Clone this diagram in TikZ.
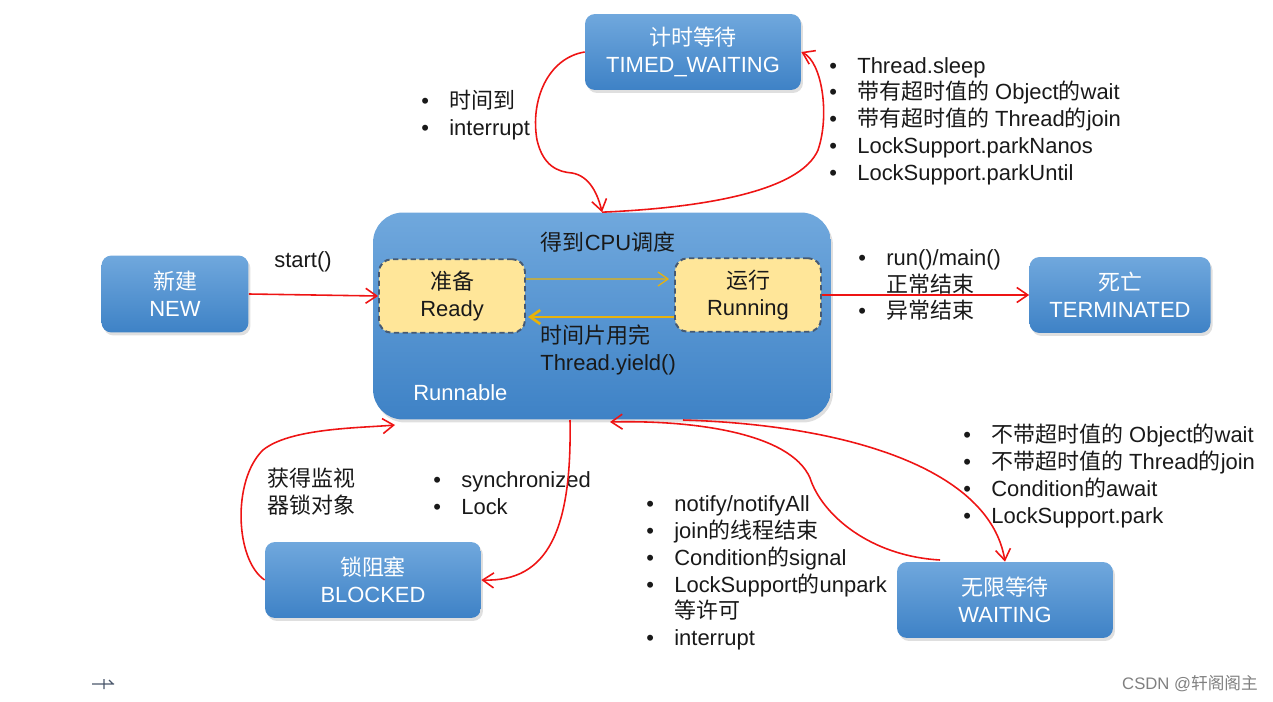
\documentclass[tikz,border=0pt]{standalone}
\usepackage{fontspec}
\setmainfont{Liberation Sans}
\newfontfamily\zhfont{Noto Sans CJK SC}
\newcommand{\zh}[1]{{\zhfont #1}} % Chinese words
\newcommand{\itm}{\makebox[0.56cm][l]{\textbullet}} % bullet of a list line
\usetikzlibrary{arrows.meta,positioning,calc,shadows}
\definecolor{boxtop}{RGB}{112,168,221}
\definecolor{boxbot}{RGB}{62,130,198}
\definecolor{readyfill}{RGB}{255,230,153}
\definecolor{dashcol}{RGB}{70,90,115}
\definecolor{goldarr}{RGB}{232,178,10}
\definecolor{redarr}{RGB}{238,20,20}
\definecolor{txt}{RGB}{25,25,25}
\definecolor{markcol}{RGB}{75,88,108}
\tikzset{x=0.02cm, y=-0.02cm, % one unit is one pixel, y runs down
        every node/.style={ % Text of all nodes
            font=\fontsize{12.5}{15.2}\selectfont,
            text=txt},
        statebox/.style={ % Blue thread states
            rectangle, rounded corners=0.2cm,
            top color=boxtop, bottom color=boxbot,
            text=white, align=center,
            minimum width=4.32cm, minimum height=1.52cm,
            drop shadow={opacity=0.25, shadow xshift=0.04cm, shadow yshift=-0.06cm}},
        innerbox/.style={ % Ready / Running inside Runnable
            rectangle, rounded corners=0.25cm,
            fill=readyfill, draw=dashcol, dash pattern=on 3pt off 2pt,
            line width=1.1pt, align=center,
            minimum width=2.92cm, minimum height=1.47cm},
        lst/.style={align=left, inner sep=0pt, anchor=west}, % Bullet lists
        trans/.style={ % Red transitions
            draw=redarr, line width=0.9pt,
            -{Straight Barb[length=2.2mm,width=3mm]}},
        sched/.style={ % Yellow scheduling arrows
            draw=goldarr,
            -{Straight Barb[length=2mm,width=2.8mm]}}
        }

\begin{document}
\begin{tikzpicture}
    \useasboundingbox (0,0) rectangle (1273,702);

    % states
    \node[statebox] (tw) at (693,52) {\zh{计时等待}\\TIMED\_WAITING};
    \node[statebox, minimum width=2.94cm, minimum height=1.54cm] (nw) at (175,294) {\zh{新建}\\NEW};
    \node[statebox, rounded corners=0.6cm, minimum width=9.16cm, minimum height=4.14cm] (rn) at (602,316) {};
    \node[innerbox] (rd) at (452,296) {\zh{准备}\\Ready};
    \node[innerbox] (rng) at (748,295) {\zh{运行}\\Running};
    \node[statebox, minimum width=3.62cm] (tm) at (1120,295) {\zh{死亡}\\TERMINATED};
    \node[statebox] (bk) at (373,580) {\zh{锁阻塞}\\BLOCKED};
    \node[statebox] (wt) at (1005,600) {\zh{无限等待}\\WAITING};

    % texts inside Runnable
    \node (cpu) at (608,242) {\zh{得到}CPU\zh{调度}};
    \node[lst] (yld) at (540,350) {\zh{时间片用完}\\Thread.yield()};
    \node[lst, text=white] (rlbl) at (413,393) {Runnable};

    % labels
    \node (st) at (303,262) {start()};
    \node[lst] (l1) at (421,115) {\itm\zh{时间到}\\ \itm interrupt};
    \node[lst] (l2) at (829,121) {\itm Thread.sleep\\
        \itm\zh{带有超时值的} Object\zh{的}wait\\
        \itm\zh{带有超时值的} Thread\zh{的}join\\
        \itm LockSupport.parkNanos\\
        \itm LockSupport.parkUntil};
    \node[lst] (l3) at (858,285) {\itm run()/main()\\ \hspace*{0.56cm}\zh{正常结束}\\ \itm\zh{异常结束}};
    \node[lst] (l4) at (963,476) {\itm\zh{不带超时值的} Object\zh{的}wait\\
        \itm\zh{不带超时值的} Thread\zh{的}join\\
        \itm Condition\zh{的}await\\
        \itm LockSupport.park};
    \node[lst] (l5) at (267,492) {\zh{获得监视}\\ \zh{器锁对象}};
    \node[lst] (l6) at (433,493) {\itm synchronized\\ \itm Lock};
    \node[lst] (l7) at (646,573) {\itm notify/notifyAll\\
        \itm join\zh{的线程结束}\\
        \itm Condition\zh{的}signal\\
        \itm LockSupport\zh{的}unpark\\
        \hspace*{0.56cm}\zh{等许可}\\
        \itm interrupt};

    % free ends on the Runnable border
    \coordinate (rb1) at (395,425);
    \coordinate (rb2) at (570,420);
    \coordinate (rb3) at (610,422);
    \coordinate (rb4) at (683,420);
    \coordinate (wt1) at (940,560);

    % scheduling
    \draw[sched, line width=0.7pt] ([yshift=0.34cm]rd.east) -- ([yshift=0.32cm, xshift=-0.1cm]rng.west);
    \draw[sched, line width=1.5pt] ([yshift=-0.44cm]rng.west) -- ([yshift=-0.42cm, xshift=0.04cm]rd.east);

    % transitions
    \draw[trans] (nw.east) -- (rd.west);
    \draw[trans] (rng.east) -- (tm.west);
    \draw[trans] (tw.west) .. controls (548,58) and (530,100) .. (537,140)
        .. controls (543,166) and (558,172) .. (572,173)
        .. controls (590,176) and (598,195) .. (rn.north);
    \draw[trans] (rn.north) .. controls (700,208) and (800,192) .. (818,150)
        .. controls (830,115) and (822,62) .. (tw.east);
    \draw[trans] (bk.west) .. controls (235,560) and (232,480) .. (263,450)
        .. controls (290,428) and (360,428) .. (rb1);
    \draw[trans] (rb2) .. controls (572,530) and (548,582) .. (bk.east);
    \draw[trans] (wt1) .. controls (870,556) and (822,515) .. (810,478)
        .. controls (790,432) and (690,420) .. (rb3);
    \draw[trans] (rb4) .. controls (850,425) and (990,470) .. (wt.north);

    % small marks at the bottom
    \draw[markcol, line width=0.7pt] (92,684) -- (114,684) (104,679) -- (104,689) (109,680) -- (113,684);
    \node[text=gray, font=\fontsize{9.5}{11}\selectfont] (wm) at (1190,684) {CSDN @\zh{轩阁阁主}};
\end{tikzpicture}
\end{document}
